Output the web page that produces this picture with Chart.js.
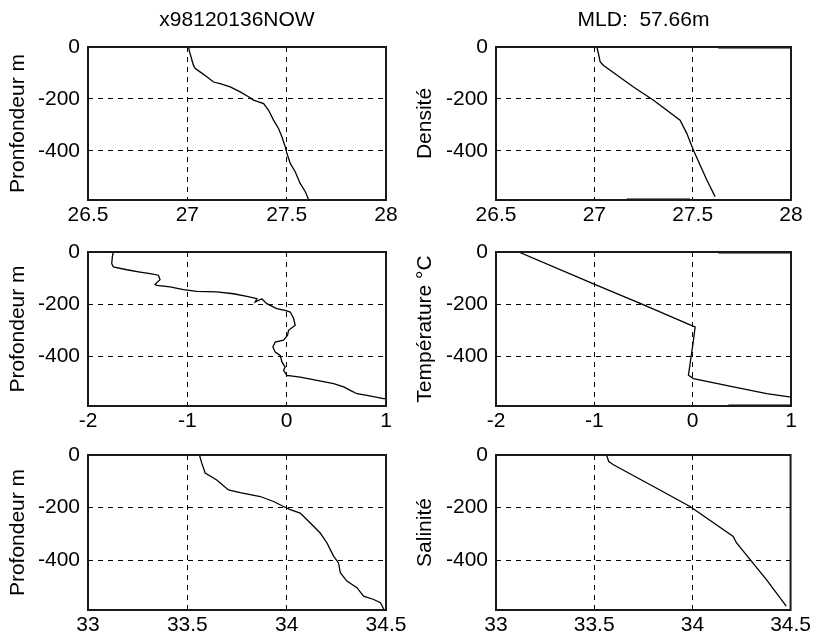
<!DOCTYPE html>
<html>
<head>
<meta charset="utf-8">
<script src="https://cdn.jsdelivr.net/npm/chart.js@4/dist/chart.umd.min.js"></script>
<style>
html, body { margin: 0; padding: 0; background: #fff; }
#wrap { position: relative; width: 814px; height: 643px; overflow: hidden; background: #fff; }
#wrap canvas { position: absolute; left: 0; top: 0; }
</style>
</head>
<body>
<div id="wrap">
  <canvas id="c1" width="814" height="643"></canvas>
  <canvas id="c2" width="814" height="643"></canvas>
  <canvas id="c3" width="814" height="643"></canvas>
  <canvas id="c4" width="814" height="643"></canvas>
  <canvas id="c5" width="814" height="643"></canvas>
  <canvas id="c6" width="814" height="643"></canvas>
</div>
<script>
// ---------- tick labels ----------
const densityTicks = [26.5, 27, 27.5, 28];
const temperatureTicks = [-2, -1, 0, 1];
const salinityTicks = [33, 33.5, 34, 34.5];
const depthTicks = [0, -200, -400];
const depthMin = -590;

// ---------- texts ----------
const titleLeft = 'x98120136NOW';
const titleRight = 'MLD:  57.66m';
const yLabels = ['Pronfondeur m', 'Densité', 'Profondeur m', 'Température °C', 'Profondeur m', 'Salinité'];

// ---------- series: density (raw) ----------
const densityRawValues = [27.006, 27.014, 27.031, 27.040, 27.064, 27.098, 27.132, 27.165, 27.216, 27.266, 27.308, 27.333, 27.384, 27.409, 27.434, 27.459, 27.476, 27.493, 27.501, 27.518, 27.543, 27.568, 27.594, 27.610];
const densityRawDepths = [0, -26, -71, -83, -96, -115, -135, -141, -154, -173, -192, -205, -218, -244, -282, -314, -346, -385, -410, -449, -481, -526, -558, -588];

// ---------- series: density (smoothed) ----------
const densitySmoothValues = [27.013, 27.021, 27.030, 27.047, 27.199, 27.301, 27.436, 27.470, 27.504, 27.572, 27.614];
const densitySmoothDepths = [0, -26, -58, -71, -154, -205, -282, -333, -398, -513, -577];

// ---------- series: temperature (raw) ----------
const temperatureRawValues = [-1.745, -1.755, -1.761, -1.745, -1.610, -1.476, -1.375, -1.291, -1.275, -1.325, -1.308, -1.174, -1.039, -0.905, -0.703, -0.535, -0.401, -0.300, -0.317, -0.250, -0.200, -0.100, -0.015, 0.036, 0.070, 0.086, 0.019, 0.009, -0.031, -0.115, -0.139, -0.115, -0.065, -0.048, -0.015, -0.031, 0.002, 0.137, 0.305, 0.473, 0.574, 0.640, 0.708, 0.809, 0.976, 1.000];
const temperatureRawDepths = [0, -19, -45, -57, -68, -77, -83, -89, -106, -124, -128, -134, -144, -151, -153, -160, -170, -179, -192, -179, -198, -217, -224, -230, -255, -281, -300, -319, -338, -345, -364, -383, -396, -421, -441, -453, -473, -479, -492, -504, -517, -530, -543, -549, -562, -562];

// ---------- series: temperature (smoothed) ----------
const temperatureSmoothValues = [-1.770, -1.008, -0.534, -0.026, 0.025, 0.008, -0.026, -0.043, 0.008, 0.414, 0.753, 1.000];
const temperatureSmoothDepths = [0, -122, -197, -279, -287, -338, -428, -472, -485, -517, -543, -556];

// ---------- series: salinity (raw) ----------
const salinityRawValues = [33.561, 33.573, 33.590, 33.648, 33.707, 33.766, 33.867, 33.934, 33.984, 34.018, 34.068, 34.119, 34.169, 34.203, 34.236, 34.261, 34.270, 34.303, 34.354, 34.387, 34.438, 34.472, 34.489];
const salinityRawDepths = [0, -32, -69, -95, -133, -143, -158, -177, -196, -208, -221, -259, -297, -335, -385, -411, -448, -480, -505, -537, -550, -562, -587];

// ---------- series: salinity (smoothed) ----------
const salinitySmoothValues = [33.563, 33.574, 33.600, 33.802, 33.988, 34.208, 34.225, 34.377, 34.478];
const salinitySmoothDepths = [0, -25, -38, -120, -196, -310, -335, -474, -575];

// ---------- short marks along the frame (right column) ----------
const densityEdgeTopValues = [27.63, 28];
const densityEdgeBottomValues = [27.165, 27.487];
const temperatureEdgeTopValues = [0.262, 1];
const temperatureEdgeBottomValues = [0.363, 1];

// ---------- drawing ----------
const FONT = "'Liberation Sans', Arial, Helvetica, sans-serif";
const FONT_SIZE = 21;

function toPoints(values, depths) {
  return values.map((v, i) => ({ x: v, y: depths[i] }));
}

function lineDataset(points, width) {
  return {
    data: points,
    showLine: true,
    borderColor: '#000',
    backgroundColor: '#000',
    borderWidth: width,
    pointRadius: 0,
    pointHoverRadius: 0,
    tension: 0,
    fill: false
  };
}

function gridColor(ctx) {
  const v = ctx.tick ? ctx.tick.value : null;
  const s = ctx.scale;
  return (v === s.min || v === s.max) ? 'rgba(0,0,0,0)' : '#000';
}

const framePlugin = {
  id: 'frame',
  afterDatasetsDraw(chart) {
    const { ctx, chartArea: a } = chart;
    ctx.save();
    ctx.strokeStyle = '#1a1a1a';
    ctx.lineWidth = 2;
    ctx.strokeRect(a.left, a.top, a.right - a.left, a.bottom - a.top);
    ctx.restore();
  }
};

const rowPad = [
  { top: 0, bottom: 413 },
  { top: 252, bottom: 207 },
  { top: 455, bottom: 3 }
];
const colPad = [
  { left: 0, right: 428, yWidth: 88, titlePad: 6 },
  { left: 400, right: 23, yWidth: 96, titlePad: 13 }
];

function makePanel(id, row, col, xTicks, datasets, yLabel, title) {
  const rp = rowPad[row], cp = colPad[col];
  new Chart(document.getElementById(id), {
    type: 'scatter',
    data: { datasets: datasets },
    options: {
      responsive: false,
      animation: false,
      events: [],
      layout: { padding: { left: cp.left, right: cp.right, top: rp.top, bottom: rp.bottom } },
      plugins: {
        legend: { display: false },
        tooltip: { enabled: false },
        title: title ? {
          display: true,
          text: title,
          color: '#000',
          fullSize: false,
          font: { family: FONT, size: FONT_SIZE, weight: 'normal' },
          padding: { top: 8, bottom: 13.8 }
        } : { display: false }
      },
      scales: {
        x: {
          type: 'linear',
          min: xTicks[0],
          max: xTicks[xTicks.length - 1],
          afterBuildTicks: s => { s.ticks = xTicks.map(v => ({ value: v })); },
          afterFit: s => { s.height = 30; },
          ticks: {
            color: '#000',
            font: { family: FONT, size: FONT_SIZE },
            padding: 3,
            maxRotation: 0,
            autoSkip: false,
            callback: v => String(v)
          },
          grid: { color: gridColor, lineWidth: 1, drawTicks: false },
          border: { display: false, dash: [5, 5] }
        },
        y: {
          type: 'linear',
          min: depthMin,
          max: 0,
          afterBuildTicks: s => { s.ticks = depthTicks.map(v => ({ value: v })); },
          afterFit: s => { s.width = cp.yWidth; },
          ticks: {
            color: '#000',
            font: { family: FONT, size: FONT_SIZE },
            padding: 8,
            autoSkip: false,
            callback: v => String(v)
          },
          grid: { color: gridColor, lineWidth: 1, drawTicks: false },
          border: { display: false, dash: [5, 5] },
          title: {
            display: true,
            text: yLabel,
            color: '#000',
            font: { family: FONT, size: FONT_SIZE },
            padding: { top: cp.titlePad, bottom: 0 }
          }
        }
      }
    },
    plugins: [framePlugin]
  });
}

makePanel('c1', 0, 0, densityTicks,
  [lineDataset(toPoints(densityRawValues, densityRawDepths), 1.3)],
  yLabels[0], titleLeft);

makePanel('c2', 0, 1, densityTicks,
  [lineDataset(toPoints(densitySmoothValues, densitySmoothDepths), 1.3),
   lineDataset(densityEdgeTopValues.map(v => ({ x: v, y: 0 })), 3),
   lineDataset(densityEdgeBottomValues.map(v => ({ x: v, y: depthMin })), 3)],
  yLabels[1], titleRight);

makePanel('c3', 1, 0, temperatureTicks,
  [lineDataset(toPoints(temperatureRawValues, temperatureRawDepths), 1.3)],
  yLabels[2], null);

makePanel('c4', 1, 1, temperatureTicks,
  [lineDataset(toPoints(temperatureSmoothValues, temperatureSmoothDepths), 1.3),
   lineDataset(temperatureEdgeTopValues.map(v => ({ x: v, y: 0 })), 3),
   lineDataset(temperatureEdgeBottomValues.map(v => ({ x: v, y: depthMin })), 3)],
  yLabels[3], null);

makePanel('c5', 2, 0, salinityTicks,
  [lineDataset(toPoints(salinityRawValues, salinityRawDepths), 1.3)],
  yLabels[4], null);

makePanel('c6', 2, 1, salinityTicks,
  [lineDataset(toPoints(salinitySmoothValues, salinitySmoothDepths), 1.3)],
  yLabels[5], null);
</script>
</body>
</html>
